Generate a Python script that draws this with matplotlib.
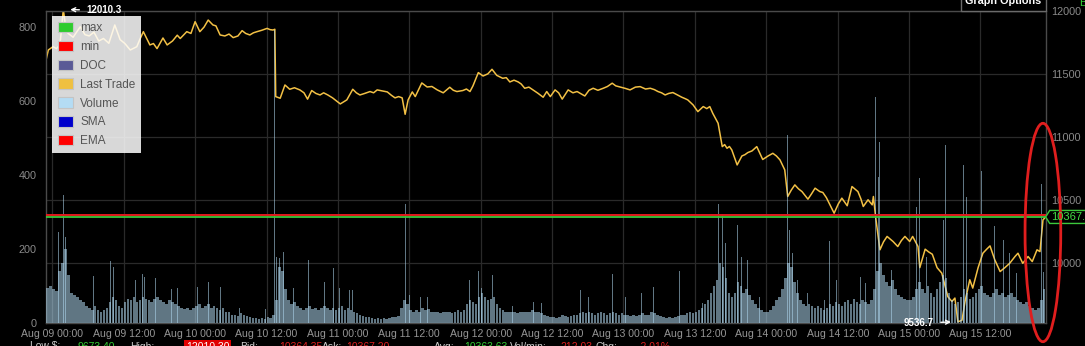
import numpy as np
import pandas as pd
import matplotlib
matplotlib.use('Agg')
import matplotlib.pyplot as plt
import matplotlib.dates as mdates
import matplotlib.transforms as mtransforms
from matplotlib.patches import Patch, Ellipse, Polygon, Rectangle

plt.rcParams['font.family'] = ['Liberation Sans', 'DejaVu Sans']

START = pd.Timestamp('2019-08-09 00:00')

# last trade price, hours after Aug 09 00:00
price_hours = [
    -1.11, -0.67, 0.12, 0.7, 1.29, 1.85, 2.3, 2.64, 3.5, 4.7, 5.5, 6.2, 7.0, 7.8, 8.6, 9.5,
    10.5, 11.4, 12.2, 13.1, 14.2, 14.7, 15.3, 16.4, 17.0, 17.6, 18.6, 19.3, 20.2, 21.0, 21.5,
    22.6, 23.3, 24.0, 24.8, 25.5, 26.2, 27.0, 27.5, 28.2, 29.0, 29.7, 30.4, 31.2, 31.9, 32.5,
    33.2, 33.8, 34.4, 35.2, 36.1, 36.6, 37.1, 37.4, 37.55, 38.3, 39.1, 39.9, 40.7, 41.6, 42.3,
    42.9, 43.6, 44.3, 45.0, 45.6, 46.3, 47.1, 47.9, 48.4, 49.5, 50.5, 51.1, 51.7, 52.5, 53.4,
    54.0, 54.6, 55.5, 56.3, 57.0, 57.6, 58.2, 58.8, 59.3, 59.8, 60.5, 61.0, 62.1, 63.0, 63.8,
    64.7, 65.7, 66.8, 67.4, 68.0, 69.0, 69.6, 70.2, 70.7, 71.6, 72.4, 73.2, 73.9, 74.7, 75.7,
    76.3, 76.9, 77.6, 78.3, 78.8, 79.4, 80.1, 80.8, 81.6, 82.5, 83.1, 83.7, 84.5, 85.1, 85.7,
    86.7, 87.5, 88.2, 89.5, 90.2, 90.9, 91.7, 92.6, 93.3, 94.1, 94.7, 95.4, 96.3, 97.1, 98.0,
    98.8, 99.7, 100.5, 101.2, 101.8, 102.4, 103.0, 103.6, 104.3, 105.0, 105.8, 106.3, 106.8,
    107.7, 108.5, 109.4, 110.0, 110.5, 111.0, 111.9, 112.6, 113.0, 113.4, 113.8, 114.2, 115.1,
    115.9, 116.4, 116.9, 117.6, 118.4, 119.4, 120.3, 121.1, 121.7, 122.3, 123.1, 123.6, 124.2,
    124.8, 125.4, 126.0, 127.0, 127.6, 128.2, 129.0, 129.5, 130.1, 130.7, 131.4, 132.1, 132.7,
    133.6, 134.4, 135.4, 135.9, 136.3, 137.1, 137.8, 138.0, 138.4, 139.1, 139.7, 140.3, 141.3,
    142.1, 142.7, 143.3, 144.1, 144.6, 145.5, 145.8, 146.7, 147.3, 147.9, 148.7, 149.5, 150.0,
    150.5, 151.2, 151.7, 152.2, 152.9, 153.4, 154.2, 154.7, 155.6, 156.4, 157.0, 157.6, 158.4,
    159.3, 160.1, 160.9, 161.8, 162.3, 163.1, 164.0, 164.7, 165.5, 166.0, 166.5, 166.96,
]
price_values = [
    11597, 11689, 11715, 11700, 11730, 12010.3, 11850, 11821, 11790, 11873, 11810, 11800, 11830,
    11760, 11780, 11742, 11887, 11771, 11740, 11689, 11715, 11771, 11834, 11729, 11740, 11700,
    11784, 11729, 11760, 11806, 11780, 11834, 11820, 11913, 11834, 11870, 11926, 11887, 11880,
    11808, 11800, 11815, 11787, 11800, 11842, 11820, 11808, 11825, 11834, 11845, 11860, 11850,
    11847, 11853, 11320, 11307, 11412, 11378, 11390, 11373, 11350, 11300, 11368, 11345, 11333,
    11350, 11333, 11310, 11280, 11262, 11294, 11378, 11350, 11333, 11345, 11360, 11350, 11373,
    11365, 11357, 11330, 11310, 11320, 11310, 11180, 11294, 11357, 11320, 11428, 11396, 11400,
    11373, 11350, 11394, 11370, 11360, 11368, 11380, 11360, 11405, 11510, 11483, 11500, 11536,
    11488, 11465, 11470, 11436, 11450, 11436, 11420, 11386, 11395, 11373, 11347, 11315, 11360,
    11320, 11373, 11350, 11300, 11373, 11350, 11360, 11325, 11370, 11386, 11370, 11386, 11400,
    11426, 11405, 11396, 11385, 11373, 11395, 11399, 11380, 11386, 11375, 11360, 11350, 11333,
    11345, 11352, 11335, 11315, 11305, 11294, 11254, 11201, 11241, 11225, 11241, 11188, 11109,
    10924, 10940, 10911, 10925, 10898, 10779, 10850, 10860, 10877, 10890, 10924, 10822, 10850,
    10871, 10850, 10819, 10740, 10529, 10580, 10621, 10590, 10568, 10508, 10550, 10595, 10568,
    10561, 10520, 10463, 10397, 10470, 10516, 10456, 10608, 10568, 10510, 10450, 10503, 10463,
    10529, 10358, 10107, 10170, 10213, 10173, 10133, 10180, 10213, 10173, 10213, 10133, 9966,
    10112, 10090, 10072, 9966, 9922, 9830, 9737, 9698, 9725, 9536.7, 9550, 9698, 9870, 9804,
    9966, 10080, 10110, 10138, 10028, 9935, 9966, 10000, 10054, 10080, 10000, 10054, 10014,
    10107, 10093, 10344, 10367.2,
]

# DOC volume in 30 minute buckets, first bucket starts 1 hour before Aug 09 00:00
vol_first_hour = -1.0
vol_step_hours = 0.5
volume_values = (
    [95, 100]
    + [90, 85, 140, 160, 200, 130, 80, 75, 70, 60, 55, 45, 40, 35, 45, 35, 30, 35, 40, 55, 70, 60, 45, 40]
    + [55, 65, 60, 70, 55, 60, 70, 65, 60, 55, 65, 70, 60, 55, 50, 60, 55, 50, 45, 40, 38, 40, 35, 40]
    + [45, 50, 40, 45, 50, 40, 45, 40, 35, 40, 30, 28, 22, 20, 18, 25, 20, 18, 15, 12, 12, 10, 12, 10]
    + [15, 12, 20, 60, 150, 140, 90, 60, 50, 55, 45, 40, 35, 40, 45, 38, 40, 35, 40, 45, 40, 35, 40, 35]
    + [40, 45, 35, 40, 35, 30, 25, 20, 18, 15, 15, 12, 10, 12, 10, 12, 10, 12, 15, 15, 18, 40, 60, 50]
    + [35, 30, 35, 30, 40, 35, 38, 30, 28, 30, 25, 30, 28, 30, 25, 30, 35, 30, 35, 50, 60, 55, 50, 70]
    + [80, 70, 60, 65, 70, 50, 40, 35, 30, 28, 30, 28, 25, 28, 30, 28, 30, 35, 28, 30, 25, 20, 18, 15]
    + [15, 12, 15, 20, 18, 15, 18, 20, 22, 25, 28, 25, 28, 25, 22, 25, 28, 25, 22, 25, 30, 25, 22, 25]
    + [20, 22, 18, 20, 18, 22, 25, 22, 20, 28, 25, 20, 18, 15, 12, 15, 12, 15, 18, 20, 22, 25, 30, 25]
    + [30, 35, 40, 50, 60, 80, 100, 115, 160, 150, 120, 80, 70, 80, 110, 100, 80, 90, 75, 60, 50, 40, 35, 30]
    + [30, 35, 45, 60, 70, 90, 120, 160, 150, 110, 80, 60, 50, 45, 50, 45, 40, 45, 40, 35, 40, 50, 45, 55]
    + [50, 45, 55, 60, 50, 65, 55, 50, 60, 55, 50, 60, 90, 140, 160, 130, 110, 100, 115, 90, 75, 70, 65, 60]
    + [60, 70, 90, 110, 90, 80, 100, 80, 70, 90, 110, 130, 120, 80, 60, 50, 55, 70, 90, 80, 65, 70, 80, 90]
    + [100, 80, 75, 70, 80, 90, 75, 80, 70, 75, 80, 70, 60, 55, 50, 55, 45, 40, 35, 40, 60, 90]
)

# single-trade volume spikes (hour, volume)
spike_hours = [
    1.0, 1.9, 2.2, 7.0, 9.7, 10.3, 13.9, 15.1, 15.5, 17.3, 18.1, 20.1, 21.1, 24.4, 26.2, 28.2,
    31.5, 35.9, 37.4, 37.7, 38.2, 38.8, 40.6, 43.0, 45.8, 47.2, 48.3, 49.9, 50.4, 59.3, 60.0,
    61.8, 63.1, 70.2, 71.6, 72.2, 74.0, 77.4, 80.8, 82.3, 86.0, 88.7, 90.1, 94.2, 96.3, 99.1,
    101.1, 105.4, 109.2, 111.9, 112.6, 113.1, 115.1, 115.9, 116.8, 118.8, 123.6, 123.9, 124.4,
    125.2, 126.9, 129.8, 130.7, 131.8, 135.9, 136.6, 138.3, 138.8, 139.1, 141.1, 145.3, 145.8,
    146.9, 149.7, 150.2, 153.1, 153.7, 156.1, 158.4, 159.8, 160.9, 162.1, 166.3, 166.6,
]
spike_values = [
    246, 345, 232, 126, 166, 150, 115, 131, 124, 122, 126, 91, 95, 97, 109, 97,
    40, 38, 792, 178, 174, 192, 95, 169, 111, 147, 93, 88, 88, 322, 75,
    70, 70, 115, 140, 95, 129, 45, 57, 52, 243, 88, 70, 131, 70, 79,
    97, 140, 52, 320, 295, 214, 264, 178, 169, 70, 506, 250, 187,
    115, 79, 60, 220, 115, 124, 106, 610, 394, 489, 142, 313, 390,
    178, 277, 480, 426, 340, 410, 260, 223, 187, 133, 374, 138,
]

last_trade = 10367.2
ema_level = 10386
legend_labels = ['max', 'min', 'DOC', 'Last Trade', 'Volume', 'SMA', 'EMA']
legend_colors = ['#2ecc2e', '#ff0000', '#5a5a96', '#efc040', '#b4dcf4', '#0000cc', '#ff0000']


def to_num(hours):
    return mdates.date2num(START + pd.to_timedelta(np.asarray(hours, dtype=float), unit='h'))


px = to_num(price_hours)
py = np.array(price_values)
vx = to_num(vol_first_hour + vol_step_hours * np.arange(len(volume_values)))
sx = to_num(spike_hours)

fig = plt.figure(figsize=(10.85, 3.46), dpi=100, facecolor='black')
rect = [45.7 / 1085, 23.3 / 346, 1000 / 1085, 312 / 346]

# price axis (right scale)
ax = fig.add_axes(rect)
ax.set_facecolor('black')
ax.plot(px, py, color='#f2c045', lw=1.1, zorder=2)
ax.set_xlim(px[0], px[-1])
ax.set_ylim(9530, 12000)

# volume axis (left scale), drawn over the price line
ax_vol = ax.twinx()
ax_vol.bar(vx, volume_values, width=vol_step_hours / 24 * 0.85, align='edge',
           color='#b0d8f0', alpha=0.55, lw=0)
ax_vol.bar(sx, spike_values, width=1 / 144, align='center',
           color='#b0d8f0', alpha=0.55, lw=0)
ax_vol.set_ylim(0, 843)

# top layer: reference lines, markers, legend
ax_top = ax.twinx()
ax_top.set_ylim(ax.get_ylim())

# twinx moves the ticks around, so set the sides afterwards
ax.yaxis.tick_right()
ax.set_yticks([10000, 10500, 11000, 11500, 12000])
ax.xaxis.set_major_locator(mdates.HourLocator(byhour=[0, 12]))
ax.xaxis.set_major_formatter(mdates.DateFormatter('%b %d %H:%M'))
ax.grid(True, color='#2a2a2a', lw=0.9)
ax.set_axisbelow(True)
ax.tick_params(axis='y', length=0, pad=3.6, labelsize=7.8, labelcolor='#8a8a8a')
ax.tick_params(axis='x', length=0, pad=4.5, labelsize=7.6, labelcolor='#959595')
for s in ax.spines.values():
    s.set_color('#4a4a4a')
    s.set_linewidth(1)

ax_vol.yaxis.tick_left()
ax_vol.set_yticks([0, 200, 400, 600, 800])
ax_vol.tick_params(axis='y', length=0, pad=6.5, labelsize=7.8, labelcolor='#8a8a8a')
for s in ax_vol.spines.values():
    s.set_visible(False)

ax_top.set_yticks([])
for s in ax_top.spines.values():
    s.set_visible(False)
ax_top.axhline(ema_level, color='#e41a1c', lw=1.4)
ax_top.axhline(last_trade, color='#3cc83c', lw=1.3)

imax = int(np.argmax(py))
imin = int(np.argmin(py))
ax_top.annotate(f'{py[imax]:.1f}', xy=(px[imax], py[imax]), xytext=(23, -1),
                textcoords='offset pixels', ha='left', va='center', color='white',
                fontsize=7, fontweight='bold', annotation_clip=False,
                arrowprops=dict(arrowstyle='->', color='white', lw=1, shrinkA=3, shrinkB=5))
ax_top.annotate(f'{py[imin]:.1f}', xy=(px[imin], py[imin]), xytext=(-24, -1),
                textcoords='offset pixels', ha='right', va='center', color='white',
                fontsize=7, fontweight='bold', annotation_clip=False,
                arrowprops=dict(arrowstyle='->', color='white', lw=1, shrinkA=3, shrinkB=5))

handles = [Patch(facecolor=c, edgecolor='#c4c4c4', lw=0.8) for c in legend_colors]
leg = ax_top.legend(handles, legend_labels, loc='upper left',
                    bbox_to_anchor=(6.3 / 1000, 306.7 / 312), borderaxespad=0,
                    frameon=True, fancybox=False, facecolor='white', framealpha=0.85,
                    edgecolor='none', fontsize=8.5, labelcolor='#555555',
                    handlelength=1.3, handleheight=1.0, handletextpad=0.6,
                    labelspacing=0.55, borderpad=0.5)
leg.set_zorder(10)

# last trade tag on the right axis
tx, ty = ax_top.transData.transform((px[-1], last_trade))
tag = Polygon([(tx, ty), (tx + 4, ty + 6.5), (tx + 60, ty + 6.5), (tx + 60, ty - 6.5), (tx + 4, ty - 6.5)],
              closed=True, transform=mtransforms.IdentityTransform(),
              facecolor='black', edgecolor='#3cc83c', lw=1)
fig.add_artist(tag)
fig.text((tx + 5) / 1085, ty / 346, f'{last_trade:.1f}', color='#44dd44', fontsize=8,
         ha='left', va='center')

# "Graph Options" button peeking in at the top
fig.add_artist(Rectangle((960.7 / 1085, 1 - 10.7 / 346), 85 / 1085, 20 / 346,
                         transform=fig.transFigure, facecolor='black', edgecolor='#6a6a6a', lw=1))
fig.text(1003 / 1085, 1 - 3.5 / 346, 'Graph Options', color='white', fontsize=7.8,
         fontweight='bold', ha='center', va='baseline')
fig.text(1079 / 1085, 1 - 6 / 346, 'B', color='#33cc33', fontsize=8, ha='left', va='baseline')

# status line cut off at the bottom edge
status = [
    (30, 'Low $:', '#cccccc', None),
    (77, '9673.40', '#33cc33', None),
    (130, 'High:', '#cccccc', None),
    (186, '12010.30', 'white', '#e00000'),
    (240, 'Bid:', '#cccccc', None),
    (279, '10364.35', '#e02020', None),
    (322, 'Ask:', '#cccccc', None),
    (346, '10367.20', '#e02020', None),
    (434, 'Avg:', '#cccccc', None),
    (464, '10363.63', '#33cc33', None),
    (510, 'Vol/min:', '#cccccc', None),
    (560, '212.03', '#e02020', None),
    (596, 'Chg:', '#cccccc', None),
    (638, '-2.01%', '#e02020', None),
]
for x, s, c, bg in status:
    kw = {}
    if bg:
        kw['bbox'] = dict(boxstyle='square,pad=0.15', fc=bg, ec='none')
    fig.text(x / 1085, 1 - 341.5 / 346, s, color=c, fontsize=7.5, ha='left', va='top', **kw)

# hand-drawn red ellipse around the latest prices
fig.add_artist(Ellipse((1042.9 / 1085, 1 - 232.5 / 346), 35.7 / 1085, 218.4 / 346,
                       transform=fig.transFigure, fill=False, edgecolor='#e01e1e', lw=2.0))

fig.savefig('out.png', dpi=100, facecolor='black')
